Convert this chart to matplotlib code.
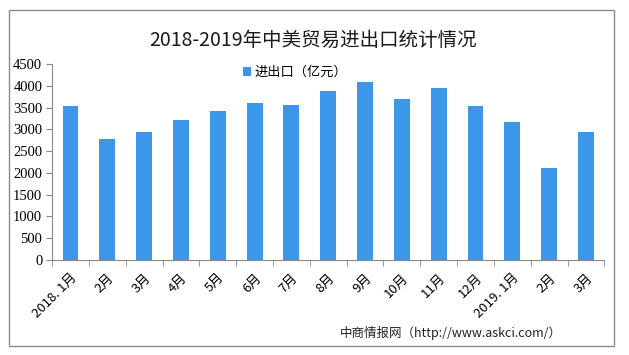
import matplotlib
matplotlib.use("Agg")
import matplotlib.pyplot as plt
from matplotlib.patches import Rectangle
import numpy as np

plt.rcParams['font.family'] = ['Noto Sans CJK SC', 'DejaVu Sans']

# data
months = ["2018. 1月", "2月", "3月", "4月", "5月", "6月", "7月", "8月", "9月",
          "10月", "11月", "12月", "2019. 1月", "2月", "3月"]
trade = [3530, 2780, 2940, 3210, 3420, 3600, 3560, 3880, 4090,
         3700, 3950, 3540, 3170, 2110, 2940]
yticks = list(range(0, 4501, 500))

fig = plt.figure(figsize=(6.29, 3.55), dpi=100)
ax = fig.add_axes([0.0827, 0.2676, 0.8783, 0.5521])

x = np.arange(len(months))
ax.bar(x, trade, width=0.43, color="#3c97e8", label="进出口（亿元）", zorder=2)

ax.set_xlim(-0.5, len(months) - 0.5)
ax.set_ylim(0, 4500)
ax.set_yticks(yticks)
ax.set_yticklabels([str(v) for v in yticks], family=['Liberation Serif'], fontsize=10.5)
ax.tick_params(axis="y", length=4, color="#888888", pad=3)

ax.set_xticks(x)
ax.set_xticklabels(months, rotation=45, ha="right", rotation_mode="anchor", fontsize=9.5)
ax.tick_params(axis="x", which="major", length=0, pad=8)
ax.set_xticks(np.arange(-0.5, len(months)), minor=True)
ax.tick_params(axis="x", which="minor", length=4, color="#888888")

for s in ["top", "right"]:
    ax.spines[s].set_visible(False)
for s in ["left", "bottom"]:
    ax.spines[s].set_color("#888888")

fig.text(0.498, 0.887, "2018-2019年中美贸易进出口统计情况", ha="center", va="center",
         fontsize=14, color="#1a1a1a")
ax.legend(loc="upper center", bbox_to_anchor=(0.44, 1.05), frameon=False,
          fontsize=9.5, handlelength=0.6, handleheight=0.6, handletextpad=0.2)
fig.text(0.54, 0.062, "中商情报网（http://www.askci.com/）", ha="left", va="center",
         fontsize=9, color="#222222")

fig.patches.append(Rectangle((9 / 629, 9 / 355), 605 / 629, 336 / 355,
                             transform=fig.transFigure, fill=False,
                             edgecolor="#8a8a8a", lw=1))

fig.savefig("out.png", dpi=100)
